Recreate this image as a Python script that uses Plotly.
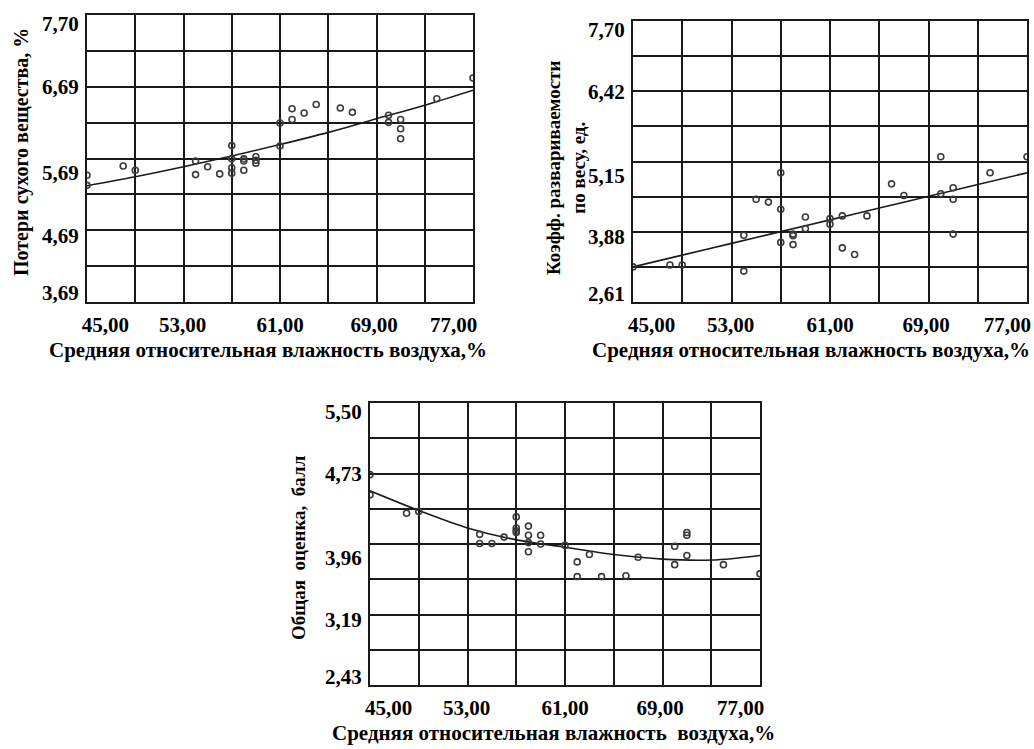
import numpy as np
import plotly.graph_objects as go

# ---------------- data ----------------
X_GRID = [45, 49, 53, 57, 61, 65, 69, 73, 77]
X_TICK_TEXT = ["45,00", "53,00", "61,00", "69,00", "77,00"]

# Panel 1: losses of dry matter
Y1_RANGE = [3.69, 7.70]
Y1_TICK_TEXT = ["7,70", "6,69", "5,69", "4,69", "3,69"]
X1 = [45, 45, 48, 49, 54, 54, 55, 56, 57, 57, 57, 57, 58, 58, 58, 59, 59, 59,
      61, 61, 62, 62, 63, 64, 66, 67, 70, 70, 71, 71, 71, 74, 77]
Y1 = [5.46, 5.32, 5.59, 5.53, 5.47, 5.66, 5.58, 5.48, 5.875, 5.69, 5.565, 5.49,
      5.69, 5.66, 5.53, 5.72, 5.67, 5.63, 6.19, 5.87, 6.39, 6.24, 6.33, 6.45,
      6.40, 6.34, 6.30, 6.20, 6.24, 6.11, 5.97, 6.53, 6.82]
TREND_X = [45, 49, 53, 57, 61, 65, 69, 73, 77]
TREND1 = [5.315, 5.44, 5.58, 5.73, 5.89, 6.06, 6.25, 6.44, 6.65]

# Panel 2: boiling coefficient by weight
Y2_RANGE = [2.61, 7.70]
Y2_TICK_TEXT = ["7,70", "6,42", "5,15", "3,88", "2,61"]
X2 = [45, 48, 49, 54, 54, 55, 56, 57, 57, 57, 58, 58, 58, 59, 59, 61, 61, 62,
      62, 63, 64, 66, 67, 70, 70, 71, 71, 71, 74, 77]
Y2 = [3.246, 3.28, 3.28, 3.82, 3.17, 4.47, 4.42, 4.95, 4.29, 3.69, 3.84, 3.81,
      3.65, 4.15, 3.94, 4.12, 4.02, 4.17, 3.59, 3.47, 4.17, 4.75, 4.54, 5.24,
      4.57, 4.68, 4.47, 3.84, 4.95, 5.24]
TREND2 = [3.246, 3.459, 3.672, 3.885, 4.098, 4.311, 4.524, 4.737, 4.95]

# Panel 3: overall score
Y3_RANGE = [2.43, 5.50]
Y3_TICK_TEXT = ["5,50", "4,73", "3,96", "3,19", "2,43"]
X3 = [45, 45, 48, 49, 54, 54, 55, 56, 57, 57, 57, 57, 58, 58, 58, 58, 59, 59,
      61, 62, 62, 63, 64, 66, 67, 70, 70, 71, 71, 71, 74, 77]
Y3 = [4.72, 4.50, 4.30, 4.32, 4.07, 3.97, 3.97, 4.04, 4.26, 4.14, 4.11, 4.09,
      4.16, 4.06, 3.98, 3.88, 4.06, 3.965, 3.95, 3.77, 3.61, 3.85, 3.61, 3.62,
      3.82, 3.94, 3.74, 4.09, 4.06, 3.84, 3.74, 3.64]
TREND3 = [4.544, 4.33, 4.14, 4.01, 3.93, 3.85, 3.80, 3.79, 3.84]

X_TITLE = "Средняя относительная влажность воздуха,%"
X_TITLE3 = "Средняя относительная влажность  воздуха,%"
Y1_TITLE = "Потери сухого вещества, %"
Y2_TITLE = "Коэфф. развариваемости<br>по весу, ед."
Y3_TITLE = "Общая  оценка,  балл"

# ---------------- layout ----------------
W, H = 1034, 749
FONT = "Liberation Serif"
INK = "#1a1a1a"
# where the printed labels sit, in grid cells from the start of each axis
X_LABEL_CELLS = [0.38, 1.98, 4.0, 5.95, 7.6]     # from the left
Y_LABEL_CELLS = [0.25, 2.0, 4.4, 6.15, 7.75]     # from the top


def px_x(p):
    return p / W


def px_y(p):
    return 1 - p / H


panels = [
    # (x-pixels, y-pixels, yrange, yticktext, xs, ys, trend, ytitle, xtitle, title shift)
    ((87, 473), (15, 302), Y1_RANGE, Y1_TICK_TEXT, X1, Y1, TREND1, Y1_TITLE, X_TITLE, -12),
    ((633, 1027), (21, 302), Y2_RANGE, Y2_TICK_TEXT, X2, Y2, TREND2, Y2_TITLE, X_TITLE, -19),
    ((370, 760), (403, 685), Y3_RANGE, Y3_TICK_TEXT, X3, Y3, TREND3, Y3_TITLE, X_TITLE3, -12),
]

fig = go.Figure()
annotations = []
layout_axes = {}
xstep = (X_GRID[-1] - X_GRID[0]) / 8
xlabel_pos = [X_GRID[0] + c * xstep for c in X_LABEL_CELLS]

for i, (xp, yp, yr, ytt, xs, ys, tr, yt, xt, tshift) in enumerate(panels, start=1):
    sfx = "" if i == 1 else str(i)
    xa, ya = "x" + sfx, "y" + sfx
    fig.add_trace(go.Scatter(
        x=TREND_X, y=tr, xaxis=xa, yaxis=ya, mode="lines",
        line=dict(color=INK, width=1.6, shape="spline"), showlegend=False,
        hoverinfo="skip"))
    fig.add_trace(go.Scatter(
        x=xs, y=ys, xaxis=xa, yaxis=ya, mode="markers",
        marker=dict(symbol="circle-open", size=6, color="#3a3a3a",
                    line=dict(width=1.6, color="#3a3a3a")),
        showlegend=False))

    ygrid = list(np.linspace(yr[0], yr[1], 9))
    ystep = (yr[1] - yr[0]) / 8
    ylabel_pos = [yr[1] - c * ystep for c in Y_LABEL_CELLS]
    common = dict(showgrid=False, showline=True, linecolor=INK, linewidth=2,
                  mirror=True, zeroline=False, automargin=False, ticks="",
                  ticklabeloverflow="allow",
                  tickfont=dict(family=FONT, size=21, color="#000", weight="bold"))
    layout_axes["xaxis" + sfx] = dict(
        domain=[px_x(xp[0]), px_x(xp[1])], range=[45, 77], anchor=ya,
        tickmode="array", tickvals=xlabel_pos, ticktext=X_TICK_TEXT,
        ticklabelstandoff=3,
        minor=dict(tickmode="array", tickvals=X_GRID, showgrid=True,
                   gridcolor=INK, gridwidth=2, ticks=""),
        **common)
    layout_axes["yaxis" + sfx] = dict(
        domain=[px_y(yp[1]), px_y(yp[0])], range=yr, anchor=xa,
        tickmode="array", tickvals=ylabel_pos, ticktext=ytt,
        ticklabelstandoff=2,
        minor=dict(tickmode="array", tickvals=ygrid, showgrid=True,
                   gridcolor=INK, gridwidth=2, ticks=""),
        **common)

    # x-axis title
    annotations.append(dict(
        text="<b>%s</b>" % xt, xref="paper", yref="paper",
        x=px_x((xp[0] + xp[1]) / 2 + tshift), y=px_y(yp[1] + 48),
        xanchor="center", yanchor="middle", showarrow=False,
        font=dict(family=FONT, size=21, color="#000")))

# y-axis titles
annotations.append(dict(
    text="<b>%s</b>" % Y1_TITLE, xref="paper", yref="paper",
    x=px_x(21), y=px_y(152), textangle=-90, showarrow=False,
    xanchor="center", yanchor="middle",
    font=dict(family=FONT, size=20, color="#000")))
annotations.append(dict(
    text="<b>%s</b>" % Y2_TITLE, xref="paper", yref="paper",
    x=px_x(566), y=px_y(168), textangle=-90, showarrow=False,
    xanchor="center", yanchor="middle",
    font=dict(family=FONT, size=19, color="#000")))
annotations.append(dict(
    text="<b>%s</b>" % Y3_TITLE, xref="paper", yref="paper",
    x=px_x(298), y=px_y(548), textangle=-90, showarrow=False,
    xanchor="center", yanchor="middle",
    font=dict(family=FONT, size=19, color="#000")))

fig.update_layout(
    width=W, height=H, margin=dict(l=0, r=0, t=0, b=0),
    paper_bgcolor="white", plot_bgcolor="white",
    annotations=annotations, hovermode=False, **layout_axes)

fig.write_html(
    "out.html", config={"displayModeBar": False},
    post_script="document.body.style.margin='0';"
                "document.body.style.overflow='hidden';")
